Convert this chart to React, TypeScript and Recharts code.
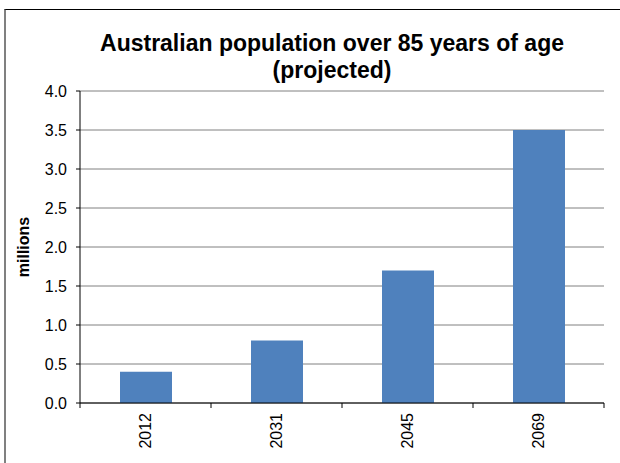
import React from 'react'
import { BarChart, Bar, XAxis, YAxis, CartesianGrid } from 'recharts'

const YEARS = ['2012', '2031', '2045', '2069']
const OVER_85_MILLIONS = [0.4, 0.8, 1.7, 3.5]
const Y_TICKS = [0, 0.5, 1, 1.5, 2, 2.5, 3, 3.5, 4]

const WIDTH = 620
const HEIGHT = 463
const MARGIN = { top: 91, right: 16, bottom: 0, left: 20 }
const Y_AXIS_WIDTH = 60
const X_AXIS_HEIGHT = 60
const PLOT_BOTTOM = HEIGHT - MARGIN.bottom - X_AXIS_HEIGHT
const BAND = (WIDTH - MARGIN.left - Y_AXIS_WIDTH - MARGIN.right) / YEARS.length

const FONT = '"Liberation Sans", Arial, sans-serif'
const TICK_FONT_SIZE = 16

const data = YEARS.map((year, i) => ({ year, value: OVER_85_MILLIONS[i] }))

// Excel-style category axis: tick marks sit between categories, labels read bottom-up
const YearTick = (props: any) => {
  const { x, payload, index } = props
  const left = x - BAND / 2
  const right = x + BAND / 2
  const ty = PLOT_BOTTOM + 10
  return (
    <g>
      <line x1={left} x2={left} y1={PLOT_BOTTOM} y2={PLOT_BOTTOM + 5} stroke="#000" />
      {index === YEARS.length - 1 && (
        <line x1={right} x2={right} y1={PLOT_BOTTOM} y2={PLOT_BOTTOM + 5} stroke="#000" />
      )}
      <text
        x={x}
        y={ty}
        transform={`rotate(-90 ${x} ${ty})`}
        textAnchor="end"
        dy="0.35em"
        fontSize={TICK_FONT_SIZE}
        fontFamily={FONT}
        fill="#000"
      >
        {payload.value}
      </text>
    </g>
  )
}

export default function App() {
  return (
    <div
      style={{
        position: 'absolute',
        left: 0,
        top: 0,
        width: WIDTH,
        height: HEIGHT,
        overflow: 'hidden',
        background: '#fff',
        fontFamily: FONT,
      }}
    >
      {/* chart frame, clipped on the right and bottom */}
      <div
        style={{
          position: 'absolute',
          left: 4,
          top: 9,
          width: WIDTH,
          height: HEIGHT,
          borderTop: '1px solid #000',
          borderLeft: '2px solid #808080',
        }}
      />
      <div style={{ position: 'absolute', left: 0, top: 0, width: WIDTH, height: HEIGHT }}>
        <BarChart width={WIDTH} height={HEIGHT} data={data} margin={MARGIN}>
          <CartesianGrid vertical={false} stroke="#808080" />
          <XAxis
            dataKey="year"
            interval={0}
            tickLine={false}
            axisLine={{ stroke: '#000' }}
            tick={<YearTick />}
            height={X_AXIS_HEIGHT}
          />
          <YAxis
            width={Y_AXIS_WIDTH}
            domain={[0, 4]}
            ticks={Y_TICKS}
            interval={0}
            tickFormatter={(v: number) => v.toFixed(1)}
            tick={{ fontSize: TICK_FONT_SIZE, fill: '#000', fontFamily: FONT }}
            tickSize={4}
            tickMargin={9}
            tickLine={{ stroke: '#000' }}
            axisLine={{ stroke: '#000' }}
          />
          <YAxis
            yAxisId="frame"
            orientation="right"
            width={0}
            domain={[0, 4]}
            tick={false}
            tickLine={false}
            axisLine={{ stroke: '#808080' }}
          />
          <Bar dataKey="value" fill="#4F81BD" barSize={52} isAnimationActive={false} />
        </BarChart>
      </div>
      <div
        style={{
          position: 'absolute',
          left: 42,
          top: 30,
          width: 580,
          textAlign: 'center',
          fontSize: 23,
          fontWeight: 'bold',
          lineHeight: '27px',
          color: '#000',
          whiteSpace: 'nowrap',
        }}
      >
        Australian population over 85 years of age
        <br />
        (projected)
      </div>
      <div
        style={{
          position: 'absolute',
          left: 24,
          top: 247,
          transform: 'translate(-50%, -50%) rotate(-90deg)',
          fontSize: 16,
          fontWeight: 'bold',
          color: '#000',
          whiteSpace: 'nowrap',
        }}
      >
        millions
      </div>
    </div>
  )
}
